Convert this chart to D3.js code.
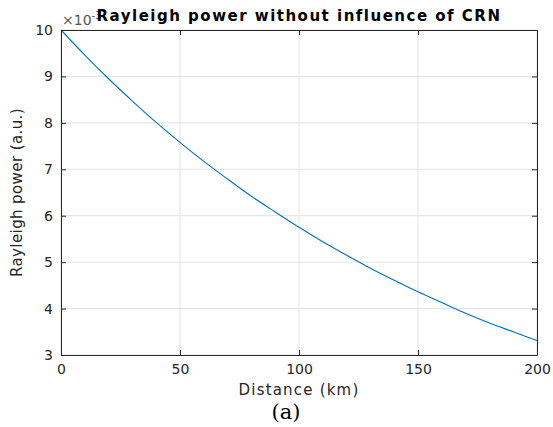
<!DOCTYPE html>
<html><head><meta charset="utf-8">
<script src="https://cdn.jsdelivr.net/npm/d3@7"></script>
<style>body{margin:0;background:#fff}svg{display:block}</style>
</head><body>
<svg id="c" width="553" height="427"></svg>
<script>
const distance = [0,10,20,30,40,50,60,70,80,90,100,110,120,130,140,150,160,170,180,190,200];
const power = [10.0,9.46,8.95,8.47,8.01,7.58,7.17,6.79,6.42,6.08,5.75,5.44,5.15,4.87,4.61,4.36,4.13,3.90,3.69,3.50,3.31];
const xTicks = [0,50,100,150,200];
const yTicks = [3,4,5,6,7,8,9,10];
const title = "Rayleigh power without influence of CRN";
const xLabel = "Distance (km)";
const yLabel = "Rayleigh power (a.u.)";
const caption = "(a)";

const svg = d3.select("#c");
const L=61, R=537, T=30, B=355;
const x = d3.scaleLinear().domain([0,200]).range([L,R]);
const y = d3.scaleLinear().domain([3,10]).range([B,T]);
const axCol="#262626", font="DejaVu Sans, sans-serif";

// grid
svg.append("g").selectAll("line").data(xTicks).join("line")
  .attr("x1",d=>x(d)).attr("x2",d=>x(d)).attr("y1",T).attr("y2",B)
  .attr("stroke","#e3e3e3").attr("stroke-width",1);
svg.append("g").selectAll("line").data(yTicks).join("line")
  .attr("y1",d=>y(d)).attr("y2",d=>y(d)).attr("x1",L).attr("x2",R)
  .attr("stroke","#e3e3e3").attr("stroke-width",1);

// line
svg.append("path").datum(distance.map((d,i)=>[d,power[i]]))
  .attr("d",d3.line().x(d=>x(d[0])).y(d=>y(d[1])).curve(d3.curveMonotoneX))
  .attr("fill","none").attr("stroke","#0072BD").attr("stroke-width",1.1);

// axes
const fmt = d3.format("d");
const ax = (g)=>{g.selectAll(".domain").attr("stroke",axCol);g.selectAll(".tick line").attr("stroke",axCol);
  g.selectAll("text").attr("fill",axCol).style("font-family",font).style("font-size","14px");};
svg.append("g").attr("transform",`translate(0,${B})`)
  .call(d3.axisBottom(x).tickValues(xTicks).tickFormat(fmt).tickSizeInner(-5).tickSizeOuter(0).tickPadding(9)).call(ax);
svg.append("g").attr("transform",`translate(0,${T})`)
  .call(d3.axisTop(x).tickValues(xTicks).tickFormat("").tickSizeInner(-5).tickSizeOuter(0)).call(ax);
svg.append("g").attr("transform",`translate(${L},0)`)
  .call(d3.axisLeft(y).tickValues(yTicks).tickFormat(fmt).tickSizeInner(-5).tickSizeOuter(0).tickPadding(8)).call(ax);
svg.append("g").attr("transform",`translate(${R},0)`)
  .call(d3.axisRight(y).tickValues(yTicks).tickFormat("").tickSizeInner(-5).tickSizeOuter(0)).call(ax);

// exponent
const ex = svg.append("text").attr("x",L+1).attr("y",25).attr("fill","#555")
  .style("font-family",font).style("font-size","14px");
ex.append("tspan").text("×10");
ex.append("tspan").attr("dy",-6).style("font-size","10px").text("-3");

// title
svg.append("text").attr("x",(L+R)/2).attr("y",21).attr("text-anchor","middle")
  .style("font-family",font).style("font-weight","bold").style("font-size","15px")
  .style("letter-spacing","1.5px").attr("fill","#000").text(title);

// labels
svg.append("text").attr("x",(L+R)/2).attr("y",395).attr("text-anchor","middle").attr("fill",axCol)
  .style("font-family",font).style("font-size","15px").style("letter-spacing","1.2px").text(xLabel);
svg.append("text").attr("transform",`translate(22,${(T+B)/2}) rotate(-90)`).attr("text-anchor","middle").attr("fill",axCol)
  .style("font-family",font).style("font-size","15px").style("letter-spacing","0.4px").text(yLabel);
svg.append("text").attr("x",286).attr("y",419).attr("text-anchor","middle").attr("fill","#000")
  .style("font-family","DejaVu Serif, serif").style("font-size","21px").text(caption);
</script>
</body></html>
